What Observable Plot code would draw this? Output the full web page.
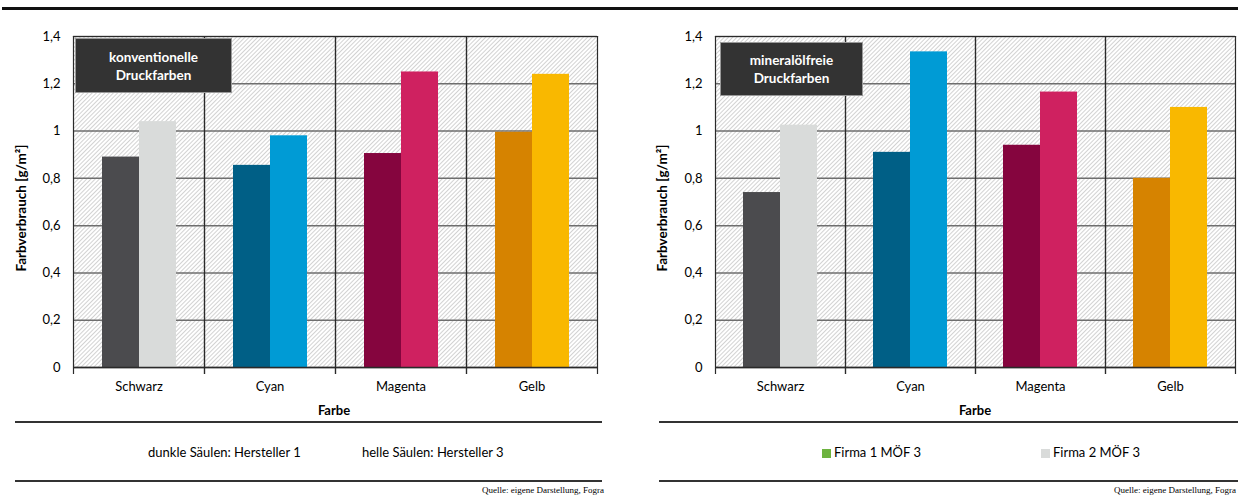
<!DOCTYPE html>
<html><head><meta charset="utf-8">
<script src="https://cdn.jsdelivr.net/npm/d3@7"></script>
<script src="https://cdn.jsdelivr.net/npm/@observablehq/plot@0.6"></script>
<style>
body{margin:0;background:#fff;font-family:Lato,"Open Sans",sans-serif;color:#000;}
#page{position:relative;width:1238px;height:497px;overflow:hidden;background:#fff;}
.box{position:absolute;background:#333;border:1px solid #9a9a9a;box-sizing:border-box;color:#fff;font-weight:bold;font-size:13.5px;line-height:18px;text-align:center;display:flex;flex-direction:column;justify-content:center;}
.ytitle{position:absolute;font-weight:bold;font-size:13.5px;transform:translate(-50%,-50%) rotate(-90deg);white-space:nowrap;color:#000;}
.xtitle{position:absolute;font-weight:bold;font-size:13px;transform:translate(-50%,-50%);color:#000;}
.rule{position:absolute;background:#333;height:2px;}
.legend{position:absolute;font-size:13px;transform:translateY(-50%);white-space:nowrap;color:#000;}
.sq{display:inline-block;width:9px;height:9px;margin-right:3px;vertical-align:-1px;}
.src{position:absolute;font-family:"Liberation Serif",serif;font-size:9px;white-space:nowrap;color:#000;}
</style></head><body><div id="page"></div>
<script>
// ---- data ----
const categories = ["Schwarz", "Cyan", "Magenta", "Gelb"];
const series = ["dunkel", "hell"];
const konventionellDunkel = [0.89, 0.855, 0.905, 0.995];
const konventionellHell = [1.04, 0.98, 1.25, 1.24];
const mineralDunkel = [0.74, 0.91, 0.94, 0.80];
const mineralHell = [1.025, 1.335, 1.165, 1.10];
const yTicks = [0, 0.2, 0.4, 0.6, 0.8, 1.0, 1.2, 1.4];
// ---- colours ----
const darkColors = ["#4b4b4e", "#005f86", "#85053e", "#d68300"];
const lightColors = ["#d9dbda", "#009bd5", "#cf2160", "#f9b800"];

const page = document.getElementById("page");

function addHTML(html) { page.insertAdjacentHTML("beforeend", html); }

function chart(dunkel, hell, id, left, width, mLeft, mRight) {
  const rows = [];
  categories.forEach((c, i) => {
    rows.push({cat: c, s: series[0], v: dunkel[i], color: darkColors[i]});
    rows.push({cat: c, s: series[1], v: hell[i], color: lightColors[i]});
  });
  const svg = Plot.plot({
    width, height: 420,
    marginLeft: mLeft, marginRight: mRight, marginTop: 36, marginBottom: 53,
    style: {fontFamily: "Lato, 'Open Sans', sans-serif", fontSize: "13px", color: "#000", background: "transparent", overflow: "visible"},
    fx: {domain: categories, padding: 0, label: null, axis: "bottom", tickSize: 0, tickPadding: 14},
    x: {domain: series, paddingInner: 0, paddingOuter: 0.75, axis: null},
    y: {domain: [0, 1.4], ticks: yTicks, tickSize: 0, tickPadding: 13, label: null,
        tickFormat: d => String(+d.toFixed(1)).replace(".", ",")},
    color: {type: "identity"},
    marks: [
      Plot.frame({fill: `url(#${id})`}),
      Plot.gridY(yTicks, {stroke: "#6e6e6e", strokeOpacity: 1, strokeWidth: 1.5}),
      Plot.barY(rows, {fx: "cat", x: "s", y: "v", fill: "color"}),
      Plot.frame({anchor: "left", stroke: "#2a2a2a", strokeWidth: 1.2, insetBottom: -6}),
      Plot.frame({anchor: "right", stroke: "#2a2a2a", strokeWidth: 1.2, insetBottom: -6}),
      Plot.frame({anchor: "top", stroke: "#2a2a2a", strokeWidth: 1.2}),
      Plot.ruleY([0], {stroke: "#2a2a2a", strokeWidth: 1.5})
    ]
  });
  const defs = d3.select(svg).insert("defs", ":first-child");
  const p = defs.append("pattern").attr("id", id).attr("patternUnits", "userSpaceOnUse")
    .attr("width", 3).attr("height", 3).attr("patternTransform", "rotate(45)");
  p.append("rect").attr("width", 3).attr("height", 3).attr("fill", "#ffffff");
  p.append("line").attr("x1", 0.5).attr("y1", 0).attr("x2", 0.5).attr("y2", 3)
    .attr("stroke", "#cdcdcd").attr("stroke-width", 0.9);
  svg.style.position = "absolute";
  svg.style.left = left + "px";
  svg.style.top = "0px";
  page.appendChild(svg);
}

// top rule
addHTML(`<div class="rule" style="left:2px;top:7px;width:1236px;height:3px;background:#111"></div>`);

chart(konventionellDunkel, konventionellHell, "hatchL", 0, 610, 72, 13);
chart(mineralDunkel, mineralHell, "hatchR", 640, 598, 74, 2);

// annotation boxes
addHTML(`<div class="box" style="left:75px;top:38px;width:157px;height:55px"><div>konventionelle</div><div>Druckfarben</div></div>`);
addHTML(`<div class="box" style="left:720px;top:42px;width:143px;height:54px"><div>mineralölfreie</div><div>Druckfarben</div></div>`);

// axis titles
addHTML(`<div class="ytitle" style="left:21px;top:208px">Farbverbrauch [g/m²]</div>`);
addHTML(`<div class="ytitle" style="left:662px;top:208px">Farbverbrauch [g/m²]</div>`);
addHTML(`<div class="xtitle" style="left:334px;top:410px">Farbe</div>`);
addHTML(`<div class="xtitle" style="left:975px;top:410px">Farbe</div>`);

// legend areas
addHTML(`<div class="rule" style="left:15px;top:421px;width:587px"></div>`);
addHTML(`<div class="rule" style="left:15px;top:480px;width:587px"></div>`);
addHTML(`<div class="rule" style="left:659px;top:421px;width:579px"></div>`);
addHTML(`<div class="rule" style="left:659px;top:480px;width:579px"></div>`);
addHTML(`<div class="legend" style="left:148px;top:452px">dunkle Säulen: Hersteller 1</div>`);
addHTML(`<div class="legend" style="left:362px;top:452px">helle Säulen: Hersteller 3</div>`);
addHTML(`<div class="legend" style="left:822px;top:452px"><span class="sq" style="background:#6db33f"></span>Firma 1 MÖF 3</div>`);
addHTML(`<div class="legend" style="left:1041px;top:452px"><span class="sq" style="background:#d9dbda"></span>Firma 2 MÖF 3</div>`);
addHTML(`<div class="src" style="right:634px;top:485px">Quelle: eigene Darstellung, Fogra</div>`);
addHTML(`<div class="src" style="right:2px;top:485px">Quelle: eigene Darstellung, Fogra</div>`);
</script>
</body></html>
